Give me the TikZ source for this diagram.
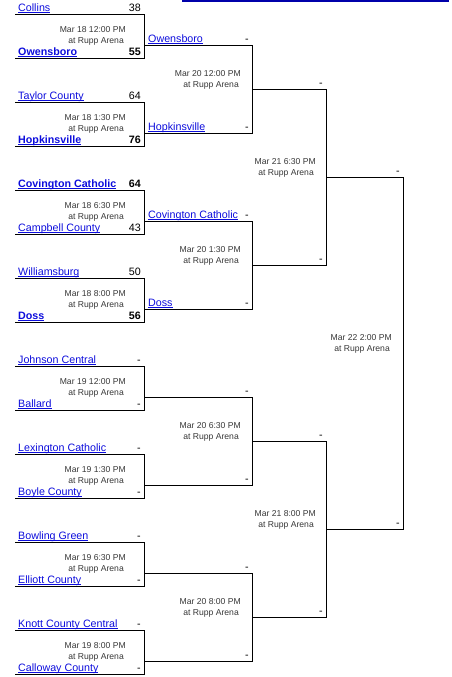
\documentclass[tikz,border=0pt]{standalone}
\usepackage{fontspec}
\setmainfont{Liberation Sans}
\usetikzlibrary{positioning}
\definecolor{linkblue}{RGB}{12,12,220}
\definecolor{topblue}{RGB}{0,0,170}
\definecolor{datetext}{RGB}{55,55,55}
\newcommand\linkname[1]{\setbox0\hbox{#1}\rlap{\copy0}\rule[-1.4pt]{\wd0}{0.6pt}}

\begin{document}
\begin{tikzpicture}[x=1pt, y=-1pt,
    bline/.style={draw, line width=0.95pt},
    team/.style={anchor=base west, inner sep=0pt, font=\fontsize{10.7}{12}\selectfont, text=linkblue},
    score/.style={anchor=base east, inner sep=0pt, font=\fontsize{10.7}{12}\selectfont},
    when/.style={anchor=east, inner sep=0pt, align=right, font=\fontsize{8.6}{10.5}\selectfont, text=datetext}
]
\useasboundingbox (0,0) rectangle (452,677);
\draw[topblue, line width=1.6pt] (182,0.8) -- (449,0.8);

% first round
\foreach \k/\ta/\sa/\tb/\sb/\day in {
    0/Collins/38/\textbf{Owensboro}/\textbf{55}/Mar 18 12:00 PM,
    1/Taylor County/64/\textbf{Hopkinsville}/\textbf{76}/Mar 18 1:30 PM,
    2/\textbf{Covington Catholic}/\textbf{64}/Campbell County/43/Mar 18 6:30 PM,
    3/Williamsburg/50/\textbf{Doss}/\textbf{56}/Mar 18 8:00 PM,
    4/Johnson Central/-/Ballard/-/Mar 19 12:00 PM,
    5/Lexington Catholic/-/Boyle County/-/Mar 19 1:30 PM,
    6/Bowling Green/-/Elliott County/-/Mar 19 6:30 PM,
    7/Knott County Central/-/Calloway County/-/Mar 19 8:00 PM}{
  \pgfmathsetmacro\yt{14+88*\k}
  \pgfmathsetmacro\yb{58+88*\k}
  \draw[bline] (15,\yt) -| (144,\yb) -- (15,\yb);
  \node[team] (ta\k) at (18,\yt-2.5) {\linkname{\ta}};
  \node[score] (sa\k) at (141,\yt-2.5) {\sa};
  \node[team] (tb\k) at (18,\yb-2.5) {\linkname{\tb}};
  \node[score] (sb\k) at (141,\yb-2.5) {\sb};
  \node[when] (d\k) at (126,\yt+22) {\day\\at Rupp Arena\hspace*{2pt}};
  \node[score] (r2s\k) at (249,\yt+28.5) {-};
}

% quarterfinals
\foreach \k/\nm in {0/Owensboro, 1/Hopkinsville, 2/Covington Catholic, 3/Doss}
  \node[team] (r2t\k) at (148,42.5+88*\k) {\linkname{\nm}};
\foreach \m/\day in {0/Mar 20 12:00 PM, 1/Mar 20 1:30 PM, 2/Mar 20 6:30 PM, 3/Mar 20 8:00 PM}{
  \draw[bline] (144,45+176*\m) -| (252,133+176*\m) -- (144,133+176*\m);
  \node[when] (q\m) at (241,80+176*\m) {\day\\at Rupp Arena\hspace*{2pt}};
  \node[score] (r3s\m) at (323,86.5+176*\m) {-};
}

% semifinals
\foreach \n/\day in {0/Mar 21 6:30 PM, 1/Mar 21 8:00 PM}{
  \draw[bline] (252,89+352*\n) -| (326,265+352*\n) -- (252,265+352*\n);
  \node[when] (s\n) at (316,168+352*\n) {\day\\at Rupp Arena\hspace*{2pt}};
  \node[score] (r4s\n) at (400,174.5+352*\n) {-};
}

% final
\draw[bline] (326,177) -| (403,529) -- (326,529);
\node[when] (fin) at (392,344) {Mar 22 2:00 PM\\at Rupp Arena\hspace*{2pt}};
\end{tikzpicture}
\end{document}
